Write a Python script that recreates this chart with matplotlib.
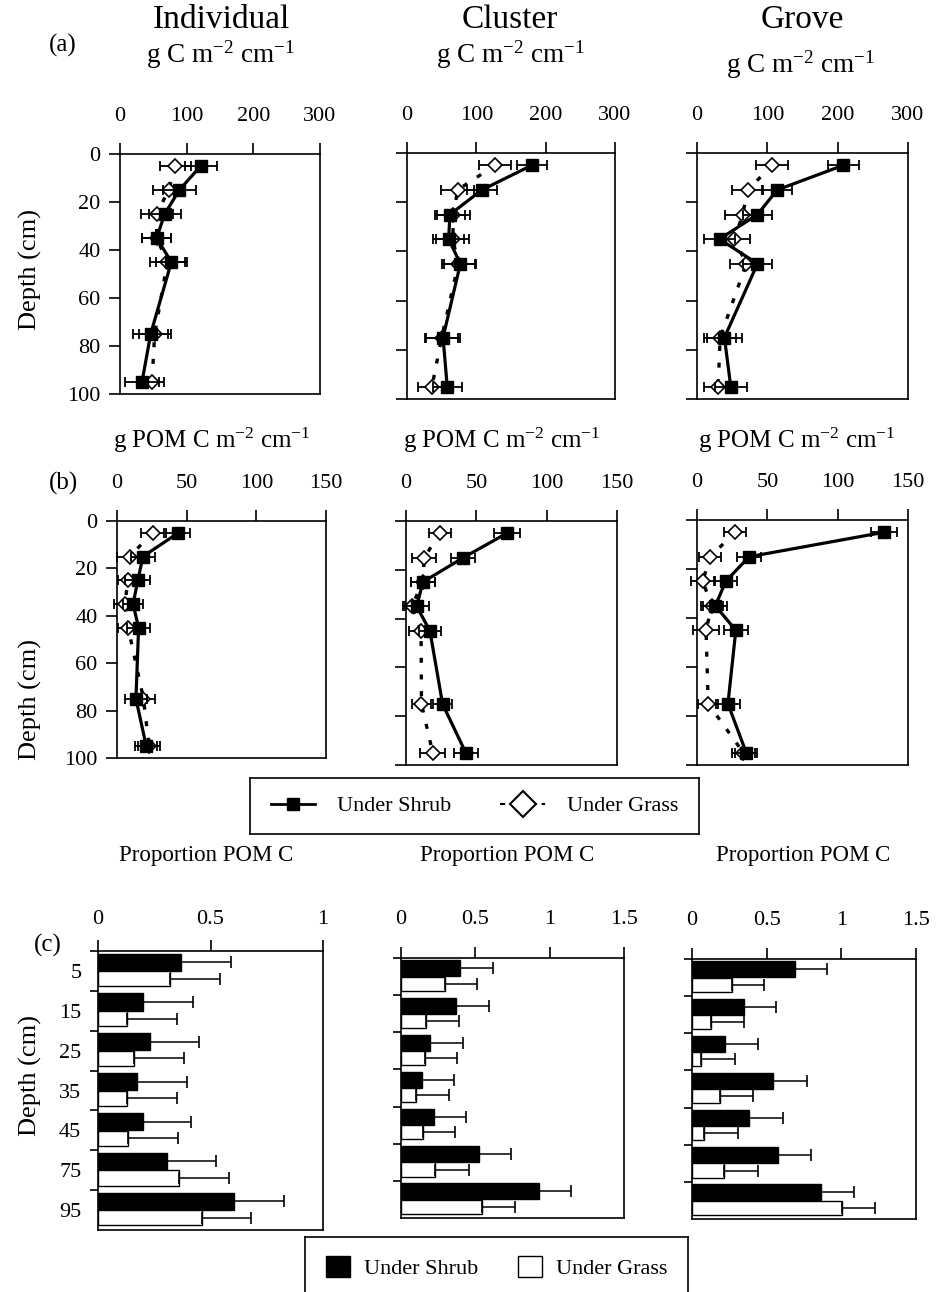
import matplotlib
matplotlib.use('Agg')
import matplotlib.pyplot as plt
import numpy as np
from matplotlib.lines import Line2D
from matplotlib.patches import Patch

plt.rcParams['font.family'] = ['Liberation Serif', 'DejaVu Serif']
plt.rcParams['mathtext.fontset'] = 'custom'
plt.rcParams['mathtext.rm'] = 'Liberation Serif'
plt.rcParams['mathtext.it'] = 'Liberation Serif:italic'
plt.rcParams['mathtext.bf'] = 'Liberation Serif:bold'

# ---------------- data ----------------
depths = [5, 15, 25, 35, 45, 75, 95]
depth_ticks = [0, 20, 40, 60, 80, 100]
depth_cats = ['5', '15', '25', '35', '45', '75', '95']

# (a) total C, g C m-2 cm-1
a_ind_shrub = [121, 89, 67, 55, 77, 46, 33]
a_ind_shrub_err = [24, 25, 24, 22, 23, 26, 25]
a_ind_grass = [83, 73, 55, 55, 71, 52, 48]
a_ind_grass_err = [23, 24, 24, 22, 26, 24, 18]

a_clu_shrub = [180, 108, 62, 60, 77, 52, 58]
a_clu_shrub_err = [22, 22, 22, 22, 23, 25, 21]
a_clu_grass = [127, 73, 67, 66, 74, 50, 36]
a_clu_grass_err = [23, 24, 24, 24, 24, 24, 20]

a_gro_shrub = [208, 114, 86, 32, 86, 39, 48]
a_gro_shrub_err = [22, 21, 21, 22, 20, 25, 23]
a_gro_grass = [107, 72, 65, 53, 70, 33, 30]
a_gro_grass_err = [23, 22, 25, 23, 23, 23, 20]

# (b) POM C, g POM C m-2 cm-1
b_ind_shrub = [44, 18.6, 15, 11.5, 15.5, 13.6, 21]
b_ind_shrub_err = [8.5, 8.5, 9, 7, 8.5, 8, 8]
b_ind_grass = [25.5, 9, 8, 5.5, 8, 19, 23]
b_ind_grass_err = [8.5, 9, 7, 7.5, 7, 8.5, 8]

b_clu_shrub = [71.7, 40.8, 12, 7.6, 17, 26, 42.5]
b_clu_shrub_err = [9, 8.5, 8.5, 8.5, 8, 7, 8.5]
b_clu_grass = [24, 13, 12, 4, 10.7, 11, 19]
b_clu_grass_err = [8, 8.5, 8.5, 6, 8.5, 7, 9]

b_gro_shrub = [133, 37, 20.5, 13, 27.6, 22, 35]
b_gro_shrub_err = [9, 8.5, 8, 8.5, 8.4, 8.5, 8]
b_gro_grass = [27, 9.4, 4, 10.6, 6.4, 8, 33]
b_gro_grass_err = [8, 8, 8, 8, 9, 7, 8]

# (c) proportion POM C
c_ind_shrub = [0.37, 0.20, 0.23, 0.175, 0.20, 0.305, 0.605]
c_ind_shrub_err = [0.22, 0.22, 0.22, 0.22, 0.215, 0.22, 0.22]
c_ind_grass = [0.32, 0.13, 0.16, 0.13, 0.135, 0.36, 0.46]
c_ind_grass_err = [0.22, 0.22, 0.22, 0.22, 0.22, 0.22, 0.22]

c_clu_shrub = [0.40, 0.37, 0.195, 0.14, 0.22, 0.525, 0.93]
c_clu_shrub_err = [0.22, 0.22, 0.22, 0.215, 0.22, 0.215, 0.215]
c_clu_grass = [0.295, 0.17, 0.16, 0.10, 0.145, 0.23, 0.545]
c_clu_grass_err = [0.215, 0.22, 0.22, 0.22, 0.215, 0.225, 0.225]

c_gro_shrub = [0.69, 0.345, 0.22, 0.545, 0.385, 0.575, 0.865]
c_gro_shrub_err = [0.215, 0.215, 0.225, 0.225, 0.225, 0.225, 0.22]
c_gro_grass = [0.27, 0.125, 0.06, 0.19, 0.08, 0.215, 1.005]
c_gro_grass_err = [0.215, 0.22, 0.225, 0.22, 0.23, 0.225, 0.22]

col_titles = ['Individual', 'Cluster', 'Grove']

# ---------------- figure ----------------
W, H = 943, 1292
fig = plt.figure(figsize=(W / 100, H / 100), dpi=100)


def px_axes(l, t, r, b):
    return fig.add_axes([l / W, 1 - b / H, (r - l) / W, (b - t) / H])


def unclip(cont):
    for art in list(cont.lines[1]) + list(cont.lines[2]):
        art.set_clip_on(False)


def line_panel(box, shrub, shrub_err, grass, grass_err, xmax, xticks, show_ylab, xpad):
    ax = px_axes(*box)
    c = ax.errorbar(grass, depths, xerr=grass_err, fmt='none', ecolor='k',
                    elinewidth=1.3, capsize=3.8, capthick=1.3, zorder=2)
    unclip(c)
    ax.plot(grass, depths, color='k', lw=2.4, ls=(0, (1.5, 3.5)), zorder=3)
    ax.plot(grass, depths, ls='none', marker='D', ms=7.5, mfc='white', mec='k',
            mew=1.2, zorder=4, clip_on=False)
    c = ax.errorbar(shrub, depths, xerr=shrub_err, fmt='none', ecolor='k',
                    elinewidth=1.3, capsize=3.8, capthick=1.3, zorder=5)
    unclip(c)
    ax.plot(shrub, depths, color='k', lw=2.3, marker='s', ms=8, zorder=6,
            clip_on=False)
    ax.set_xlim(0, xmax)
    ax.set_ylim(100, 0)
    ax.xaxis.tick_top()
    ax.set_xticks(xticks)
    ax.set_yticks(depth_ticks)
    if not show_ylab:
        ax.set_yticklabels([])
    ax.tick_params(direction='out', length=8, width=1.2, labelsize=16)
    ax.tick_params(axis='x', pad=xpad)
    ax.tick_params(axis='y', pad=6)
    for s in ax.spines.values():
        s.set_linewidth(1.2)
    return ax


def bar_panel(box, shrub, shrub_err, grass, grass_err, xmax, xticks, xlabels, show_ylab, xpad):
    ax = px_axes(*box)
    n = len(depth_cats)
    idx = np.arange(n)
    ax.barh(idx - 0.22, shrub, height=0.43, color='black', edgecolor='black', lw=1)
    ax.barh(idx + 0.195, grass, height=0.38, color='white', edgecolor='black', lw=1)
    ax.errorbar(shrub, idx - 0.22, xerr=[np.zeros(n), shrub_err], fmt='none',
                ecolor='k', elinewidth=1.1, capsize=4.5, capthick=1.2)
    ax.errorbar(grass, idx + 0.195, xerr=[np.zeros(n), grass_err], fmt='none',
                ecolor='k', elinewidth=1.1, capsize=4.5, capthick=1.2)
    ax.set_xlim(0, xmax)
    ax.set_ylim(n - 0.5, -0.5)
    ax.xaxis.tick_top()
    ax.set_xticks(xticks)
    ax.set_xticklabels(xlabels)
    ax.set_yticks(idx)
    ax.set_yticklabels(depth_cats if show_ylab else [])
    ax.set_yticks(np.arange(-0.5, n - 0.9, 1.0), minor=True)
    ax.tick_params(axis='x', direction='out', length=8, width=1.2, labelsize=16, pad=xpad)
    ax.tick_params(axis='y', which='major', length=0, labelsize=16, pad=12)
    ax.tick_params(axis='y', which='minor', direction='out', length=6, width=1.2)
    for s in ax.spines.values():
        s.set_linewidth(1.2)
    return ax


# (a)
line_panel((120, 154, 320, 394), a_ind_shrub, a_ind_shrub_err, a_ind_grass, a_ind_grass_err,
           300, [0, 100, 200, 300], True, 12)
line_panel((407, 153, 615, 399), a_clu_shrub, a_clu_shrub_err, a_clu_grass, a_clu_grass_err,
           300, [0, 100, 200, 300], False, 12)
line_panel((697, 153, 908, 399), a_gro_shrub, a_gro_shrub_err, a_gro_grass, a_gro_grass_err,
           300, [0, 100, 200, 300], False, 12)

# (b)
line_panel((117, 521, 326, 758), b_ind_shrub, b_ind_shrub_err, b_ind_grass, b_ind_grass_err,
           150, [0, 50, 100, 150], True, 12)
line_panel((406, 521, 617, 765), b_clu_shrub, b_clu_shrub_err, b_clu_grass, b_clu_grass_err,
           150, [0, 50, 100, 150], False, 12)
line_panel((697, 520, 908, 765), b_gro_shrub, b_gro_shrub_err, b_gro_grass, b_gro_grass_err,
           150, [0, 50, 100, 150], False, 12)

# (c)
bar_panel((98, 951, 323, 1230), c_ind_shrub, c_ind_shrub_err, c_ind_grass, c_ind_grass_err,
          1.0, [0, 0.5, 1.0], ['0', '0.5', '1'], True, 8)
bar_panel((401, 958, 624, 1218), c_clu_shrub, c_clu_shrub_err, c_clu_grass, c_clu_grass_err,
          1.5, [0, 0.5, 1.0, 1.5], ['0', '0.5', '1', '1.5'], False, 13)
bar_panel((692, 959, 916, 1219), c_gro_shrub, c_gro_shrub_err, c_gro_grass, c_gro_grass_err,
          1.5, [0, 0.5, 1.0, 1.5], ['0', '0.5', '1', '1.5'], False, 13)


def ftext(x, y, s, **kw):
    fig.text(x / W, 1 - y / H, s, ha='center', va='center', **kw)


# column titles
for x, t in zip([221, 510, 802], col_titles):
    ftext(x, 20, t, fontsize=24)

unit_a = r'g C m$^{\mathregular{-2}}$ cm$^{\mathregular{-1}}$'
unit_b = r'g POM C m$^{\mathregular{-2}}$ cm$^{\mathregular{-1}}$'
for x, y in [(220, 55), (510, 55), (800, 65)]:
    ftext(x, y, unit_a, fontsize=19.5)
for x in [212, 502, 797]:
    ftext(x, 440, unit_b, fontsize=18)
for x in [206, 507, 803]:
    ftext(x, 855, 'Proportion POM C', fontsize=16.5)

ftext(63, 45, '(a)', fontsize=18)
ftext(63, 483, '(b)', fontsize=18)
ftext(48, 945, '(c)', fontsize=18)

for y in [270, 700, 1075]:
    ftext(30, y, 'Depth (cm)', fontsize=19, rotation=90)

# legend for line panels
lax = px_axes(250, 778, 699, 834)
lax.set_xticks([])
lax.set_yticks([])
for s in lax.spines.values():
    s.set_linewidth(1.2)
h1 = [Line2D([], [], color='k', lw=2, marker='s', ms=8),
      Line2D([], [], color='k', lw=1.5, ls=(0, (2.5, 2.5)), marker='D', ms=13,
             mfc='white', mew=1.5)]
lax.legend(h1, ['Under Shrub', 'Under Grass'], loc='center', ncol=2, frameon=False,
           fontsize=16, handlelength=2.0, columnspacing=2.2, handletextpad=1.0)

# legend for bar panels
lax2 = px_axes(305, 1237, 688, 1292)
lax2.set_xticks([])
lax2.set_yticks([])
for s in lax2.spines.values():
    s.set_linewidth(1.2)
lax2.spines['bottom'].set_visible(False)
h2 = [Patch(facecolor='black', edgecolor='black'),
      Patch(facecolor='white', edgecolor='black')]
lax2.legend(h2, ['Under Shrub', 'Under Grass'], loc='center', ncol=2, frameon=False,
            fontsize=16, handlelength=1.1, handleheight=1.1, columnspacing=1.8,
            handletextpad=0.6, bbox_to_anchor=(0.5, 0.45))

fig.savefig('out.png', dpi=100)
